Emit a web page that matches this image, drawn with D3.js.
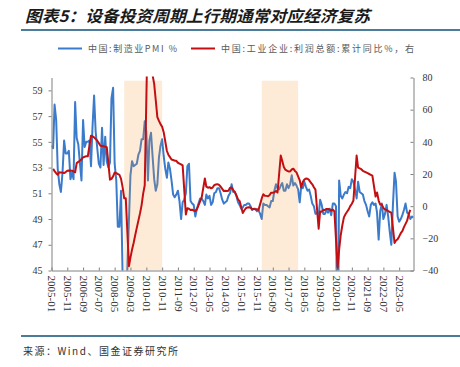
<!DOCTYPE html>
<html>
<head>
<meta charset="utf-8">
<script src="https://cdn.jsdelivr.net/npm/d3@7"></script>
<style>
body { margin: 0; background: #fff; }
svg text { font-family: "Liberation Serif", "Times New Roman", serif; }
.cn { font-family: "Noto Sans CJK SC", sans-serif; }
</style>
</head>
<body>
<svg id="chart"></svg>
<script>
// monthly data, first value is 2005-01
var startMonth = "2005-01";

// 中国:制造业PMI
var pmi = [
    54.7, 54.5, 57.9, 56.7, 52.9, 51.7, 51.1, 52.6, 55.1, 54.1, 54.1, 54.3, // 2005
    52.1, 52.6, 52.1, 58.1, 55.3, 54.8, 53.4, 52.0, 56.7, 54.6, 55.0, 55.0, // 2006
    55.1, 53.1, 56.1, 58.6, 55.8, 54.5, 53.3, 53.0, 56.1, 53.2, 55.4, 53.5, // 2007
    53.0, 53.4, 58.4, 59.2, 53.3, 52.0, 48.4, 48.4, 51.2, 44.6, 38.8, 41.2, // 2008
    45.3, 49.0, 52.4, 53.5, 53.1, 53.2, 53.3, 54.0, 54.3, 55.2, 55.2, 56.6, // 2009
    55.8, 52.0, 55.1, 55.7, 53.9, 52.1, 51.2, 51.7, 53.8, 54.7, 55.2, 53.9, // 2010
    52.9, 52.2, 53.4, 52.9, 52.0, 50.9, 50.7, 50.9, 51.2, 50.4, 49.0, 50.3, // 2011
    50.5, 51.0, 53.1, 53.3, 50.4, 50.2, 50.1, 49.2, 49.8, 50.2, 50.6, 50.6, // 2012
    50.4, 50.1, 50.9, 50.6, 50.8, 50.1, 50.3, 51.0, 51.1, 51.4, 51.4, 51.0, // 2013
    50.5, 50.2, 50.3, 50.4, 50.8, 51.0, 51.7, 51.1, 51.1, 50.8, 50.3, 50.1, // 2014
    49.8, 49.9, 50.1, 50.1, 50.2, 50.2, 50.0, 49.7, 49.8, 49.8, 49.6, 49.7, // 2015
    49.4, 49.0, 50.2, 50.1, 50.1, 50.0, 49.9, 50.4, 50.4, 51.2, 51.7, 51.4, // 2016
    51.3, 51.6, 51.8, 51.2, 51.2, 51.7, 51.4, 51.7, 52.4, 51.6, 51.8, 51.6, // 2017
    51.3, 50.3, 51.5, 51.4, 51.9, 51.5, 51.2, 51.3, 50.8, 50.2, 50.0, 49.4, // 2018
    49.5, 49.2, 50.5, 50.1, 49.4, 49.4, 49.7, 49.5, 49.8, 49.3, 50.2, 50.2, // 2019
    50.0, 35.7, 52.0, 50.8, 50.6, 50.9, 51.1, 51.0, 51.5, 51.4, 52.1, 51.9, // 2020
    51.3, 50.6, 51.9, 51.1, 51.0, 50.9, 50.4, 50.1, 49.6, 49.2, 50.1, 50.3, // 2021
    50.1, 50.2, 49.5, 47.4, 49.6, 50.2, 49.0, 49.4, 50.1, 49.2, 48.0, 47.0, // 2022
    50.1, 52.6, 51.9, 49.2, 48.8, 49.0, 49.3, 49.7, 50.2, 49.5, 49.4, 49.0, // 2023
    49.2, 49.1                                                              // 2024
];

// 中国:工业企业:利润总额:累计同比 (no January figure)
var profit = [
    null, 23.2, 21.8, 20.5, 19.5, 21.1, 21.0, 20.8, 20.6, 21.2, 22.0, 22.2,
    null, 22.0, 21.6, 21.1, 26.8, 27.5, 28.2, 29.2, 30.3, 30.7, 31.0, 31.0,
    null, 43.8, 43.5, 42.8, 41.8, 40.7, 39.2, 37.6, 37.4, 37.2, 37.0, 36.7,
    null, 16.5, 17.0, 18.5, 20.9, 20.5, 20.0, 19.4, 17.0, 11.8, 4.9, 4.9,
    null, -37.3, -32.0, -27.0, -22.9, -18.0, -13.5, -9.0, -4.5, 0.5, 7.8, 13.0,
    null, 119.7, 115.0, 100.0, 81.6, 76.0, 66.0, 55.4, 53.0, 51.0, 49.4, 46.0,
    null, 34.3, 32.0, 30.5, 29.0, 28.7, 28.3, 28.2, 27.0, 26.5, 26.0, 25.4,
    null, -5.2, -1.3, -1.6, -2.4, -2.2, -2.7, -3.1, -1.8, 0.5, 3.0, 5.3,
    null, 17.2, 12.1, 11.5, 11.8, 11.1, 11.6, 13.1, 13.5, 13.7, 13.2, 12.2,
    null, 9.4, 9.6, 9.5, 9.6, 11.4, 11.6, 10.0, 8.9, 6.7, 4.2, 3.3,
    null, -4.2, -2.7, -1.3, -0.8, -0.7, -1.0, -1.9, -1.7, -2.0, -1.9, -2.3,
    null, 4.8, 7.4, 6.5, 6.4, 6.2, 6.9, 8.4, 8.4, 8.6, 9.4, 8.5,
    null, 31.5, 28.3, 24.4, 22.7, 22.0, 21.6, 21.6, 22.8, 23.3, 21.9, 21.0,
    null, 16.1, 11.6, 15.0, 16.5, 17.2, 17.1, 16.2, 14.7, 13.6, 11.8, 10.3,
    null, -14.0, -3.3, -3.4, -2.3, -2.4, -1.7, -1.7, -2.1, -2.9, -2.1, -3.3,
    null, -38.3, -27.0, -18.0, -12.0, -7.0, -5.0, -3.5, -2.0, 0.0, 1.5, 3.5,
    null, 31.5, 24.0, 23.5, 23.0, 22.0, 21.5, 21.0, 20.5, 20.0, 19.5, 19.0,
    null, 6.0, 8.5, 3.5, 1.0, 1.0, -1.1, -2.1, -2.3, -3.0, -3.6, -4.0,
    null, -22.9, -21.4, -20.6, -18.8, -16.8, -15.5, -13.0, -11.0, -9.0, -5.0, -2.3,
    null, null
];

var xTickLabels = ["2005-01","2005-11","2006-09","2007-07","2008-05","2009-03","2010-01","2010-11",
    "2011-09","2012-07","2013-05","2014-03","2015-01","2015-11","2016-09","2017-07","2018-05",
    "2019-03","2020-01","2020-11","2021-09","2022-07","2023-05"];
var leftTicks = [45, 47, 49, 51, 53, 55, 57, 59];
var rightTicks = [-40, -20, 0, 20, 40, 60, 80];

// upturn periods of equipment investment
var shadeStart = ["2008-11", "2016-02"];
var shadeEnd = ["2010-11", "2018-01"];
var shadeTop = 78;

var seriesNames = ["中国:制造业PMI %", "中国:工业企业:利润总额:累计同比%，右"];
var seriesColors = ["#3b7bcb", "#c40f12"];

var W = 460, H = 367;
var L = 51.5, R = 413.5, T = 77.5, B = 270.5;

var svg = d3.select("#chart").attr("width", W).attr("height", H);

var parseMonth = d3.timeParse("%Y-%m");
var t0 = parseMonth(startMonth);
function monthDate(i) { return d3.timeMonth.offset(t0, i); }

var x = d3.scaleTime()
    .domain([t0, monthDate(pmi.length - 1)])
    .range([L, R]);
var yL = d3.scaleLinear().domain([45, 60]).range([B, T]);
var yR = d3.scaleLinear().domain([-40, 80]).range([B, T]);

var pmiPts = pmi.map(function(v, i) { return {d: monthDate(i), v: v}; });
var profitPts = profit.map(function(v, i) { return {d: monthDate(i), v: v}; })
    .filter(function(p) { return p.v !== null; });

// title
svg.append("text")
    .attr("class", "cn")
    .attr("x", 25).attr("y", 22)
    .attr("textLength", 345).attr("lengthAdjust", "spacingAndGlyphs")
    .style("font-size", "16px").style("font-weight", "bold").style("font-style", "italic")
    .attr("fill", "#1a1a1a")
    .text("图表5：设备投资周期上行期通常对应经济复苏");

svg.append("line").attr("x1", 21).attr("x2", W).attr("y1", 30).attr("y2", 30)
    .attr("stroke", "#4b7c9a").attr("stroke-width", 2);
svg.append("line").attr("x1", 21).attr("x2", W).attr("y1", 336).attr("y2", 336)
    .attr("stroke", "#4b7c9a").attr("stroke-width", 2);

svg.append("text")
    .attr("class", "cn")
    .attr("x", 23).attr("y", 355)
    .attr("textLength", 155).attr("lengthAdjust", "spacing")
    .style("font-size", "10px").attr("fill", "#333")
    .text("来源：Wind、国金证券研究所");

// legend
var legendX = [58, 191];
var legendW = [89, 193];
seriesNames.forEach(function(name, i) {
    svg.append("line")
        .attr("x1", legendX[i]).attr("x2", legendX[i] + 24)
        .attr("y1", 48.5).attr("y2", 48.5)
        .attr("stroke", seriesColors[i]).attr("stroke-width", 2);
    svg.append("text")
        .attr("class", "cn")
        .attr("x", legendX[i] + 30).attr("y", 52)
        .attr("textLength", legendW[i]).attr("lengthAdjust", "spacing")
        .style("font-size", "9px").attr("fill", "#595959")
        .text(name);
});

svg.append("clipPath").attr("id", "plotclip")
    .append("rect").attr("x", L).attr("y", T - 1).attr("width", R - L).attr("height", B - T + 1);

var plot = svg.append("g").attr("clip-path", "url(#plotclip)");

plot.append("path")
    .datum(pmiPts)
    .attr("fill", "none")
    .attr("stroke", seriesColors[0])
    .attr("stroke-width", 2)
    .attr("stroke-linejoin", "round")
    .attr("d", d3.line().x(function(p) { return x(p.d); }).y(function(p) { return yL(p.v); }));

// shaded periods sit over the PMI line, under the profit line
plot.selectAll(".shade")
    .data(d3.range(shadeStart.length))
    .enter().append("rect")
    .attr("class", "shade")
    .attr("x", function(i) { return x(parseMonth(shadeStart[i])); })
    .attr("width", function(i) { return x(parseMonth(shadeEnd[i])) - x(parseMonth(shadeStart[i])); })
    .attr("y", yR(shadeTop))
    .attr("height", B - yR(shadeTop))
    .attr("fill", "#f59a35")
    .attr("fill-opacity", 0.2);

plot.append("path")
    .datum(profitPts)
    .attr("fill", "none")
    .attr("stroke", seriesColors[1])
    .attr("stroke-width", 2)
    .attr("stroke-linejoin", "round")
    .attr("d", d3.line().x(function(p) { return x(p.d); }).y(function(p) { return yR(p.v); }));

// axes
function styleAxis(g) {
    g.selectAll("path.domain").attr("stroke", "#808080");
    g.selectAll(".tick line").attr("stroke", "#808080");
    g.selectAll(".tick text").attr("fill", "#333").style("font-size", "10px")
        .style("font-family", "'Liberation Serif', serif");
}

svg.append("g")
    .attr("transform", "translate(" + L + ",0)")
    .call(d3.axisLeft(yL).tickValues(leftTicks).tickFormat(d3.format("d"))
        .tickSize(3).tickSizeOuter(0).tickPadding(6))
    .call(styleAxis);

svg.append("g")
    .attr("transform", "translate(" + R + ",0)")
    .call(d3.axisRight(yR).tickValues(rightTicks).tickFormat(d3.format("d"))
        .tickSize(-3).tickSizeOuter(0).tickPadding(9))
    .call(styleAxis);

var xAxis = svg.append("g")
    .attr("transform", "translate(0," + B + ")")
    .call(d3.axisBottom(x).tickValues(xTickLabels.map(parseMonth))
        .tickFormat(d3.timeFormat("%Y-%m")).tickSize(-3).tickSizeOuter(0))
    .call(styleAxis);

xAxis.selectAll(".tick text")
    .attr("x", 5).attr("y", 0).attr("dy", "0.35em")
    .attr("transform", "rotate(90)")
    .style("text-anchor", "start")
    .style("font-size", "11px");
</script>
</body>
</html>
